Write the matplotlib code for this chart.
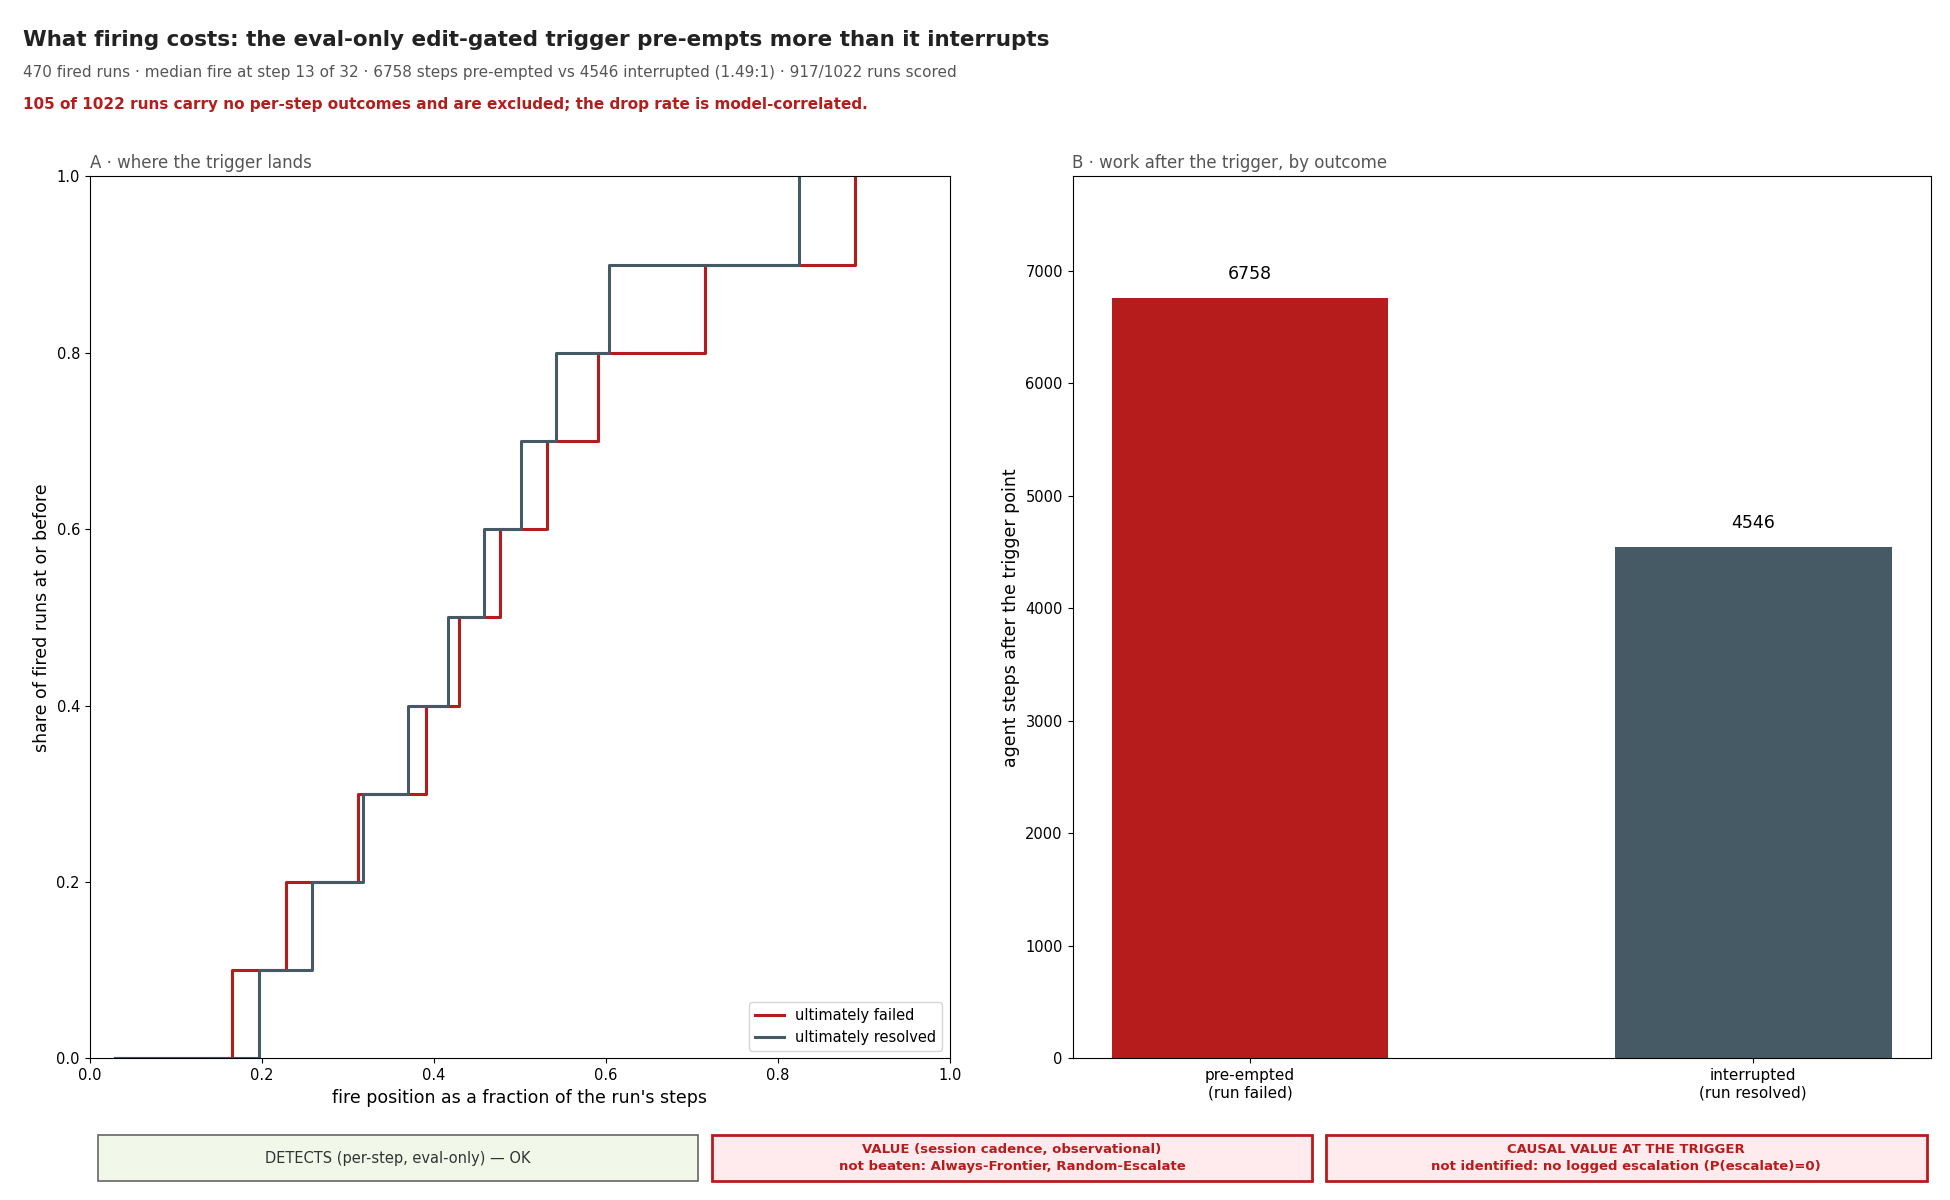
import matplotlib
matplotlib.use("Agg")
import matplotlib.pyplot as plt
from matplotlib.patches import FancyBboxPatch

RED = "#b71c1c"
SLATE = "#455a64"

# ECDF of fire position, step "post"
failed_x = [0.03, 0.165, 0.228, 0.312, 0.391, 0.429, 0.477, 0.532, 0.591, 0.716, 0.89]
resolved_x = [0.03, 0.197, 0.258, 0.318, 0.370, 0.417, 0.458, 0.501, 0.542, 0.604, 0.825]
share_y = [0.0, 0.1, 0.2, 0.3, 0.4, 0.5, 0.6, 0.7, 0.8, 0.9, 1.0]

bar_labels = ["pre-empted\n(run failed)", "interrupted\n(run resolved)"]
bar_values = [6758, 4546]

fig = plt.figure(figsize=(19.5, 12), dpi=100)

fig.text(0.012, 0.975, "What firing costs: the eval-only edit-gated trigger pre-empts more than it interrupts",
         fontsize=15.5, fontweight="bold", color="#222", va="top")
fig.text(0.012, 0.946, "470 fired runs · median fire at step 13 of 32 · 6758 steps pre-empted vs 4546 interrupted (1.49:1) · 917/1022 runs scored",
         fontsize=11, color="#555", va="top")
fig.text(0.012, 0.919, "105 of 1022 runs carry no per-step outcomes and are excluded; the drop rate is model-correlated.",
         fontsize=11, fontweight="bold", color=RED, va="top")

axA = fig.add_axes([0.046, 0.118, 0.441, 0.735])
axA.step(failed_x, share_y, where="post", color=RED, lw=2.2, label="ultimately failed")
axA.step(resolved_x, share_y, where="post", color=SLATE, lw=2.2, label="ultimately resolved")
axA.set_xlim(0, 1)
axA.set_ylim(0, 1)
axA.set_xlabel("fire position as a fraction of the run's steps", fontsize=12.5)
axA.set_ylabel("share of fired runs at or before", fontsize=12.5)
axA.set_title("A · where the trigger lands", loc="left", fontsize=12, color="#555")
axA.tick_params(labelsize=10.5)
axA.legend(loc="lower right", fontsize=10.5)

axB = fig.add_axes([0.55, 0.118, 0.44, 0.735])
bars = axB.bar(range(len(bar_values)), bar_values, width=0.55, color=[RED, SLATE])
for i, v in enumerate(bar_values):
    axB.text(i, v + max(bar_values) * 0.02, f"{v}", ha="center", va="bottom", fontsize=12.5)
axB.set_xticks(range(len(bar_values)))
axB.set_xticklabels(bar_labels, fontsize=11)
axB.set_ylim(0, max(bar_values) * 1.16)
axB.set_ylabel("agent steps after the trigger point", fontsize=12.5)
axB.set_title("B · work after the trigger, by outcome", loc="left", fontsize=12, color="#555")
axB.tick_params(axis="y", labelsize=10.5)

boxes = [
    ("DETECTS (per-step, eval-only) — OK", 0.050, "#f1f8e9", "#666", "#333", "normal"),
    ("VALUE (session cadence, observational)\nnot beaten: Always-Frontier, Random-Escalate", 0.365, "#ffebee", RED, RED, "bold"),
    ("CAUSAL VALUE AT THE TRIGGER\nnot identified: no logged escalation (P(escalate)=0)", 0.680, "#ffebee", RED, RED, "bold"),
]
for text, x0, fc, ec, tc, fw in boxes:
    fig.patches.append(FancyBboxPatch((x0, 0.016), 0.308, 0.038, boxstyle="square,pad=0",
                                      transform=fig.transFigure, fc=fc, ec=ec, lw=2 if ec == RED else 1.2))
    fig.text(x0 + 0.154, 0.035, text, ha="center", va="center", fontsize=9.5 if fw == "bold" else 10.5,
             color=tc, fontweight=fw, linespacing=1.4)

fig.savefig("out.png", dpi=100)
